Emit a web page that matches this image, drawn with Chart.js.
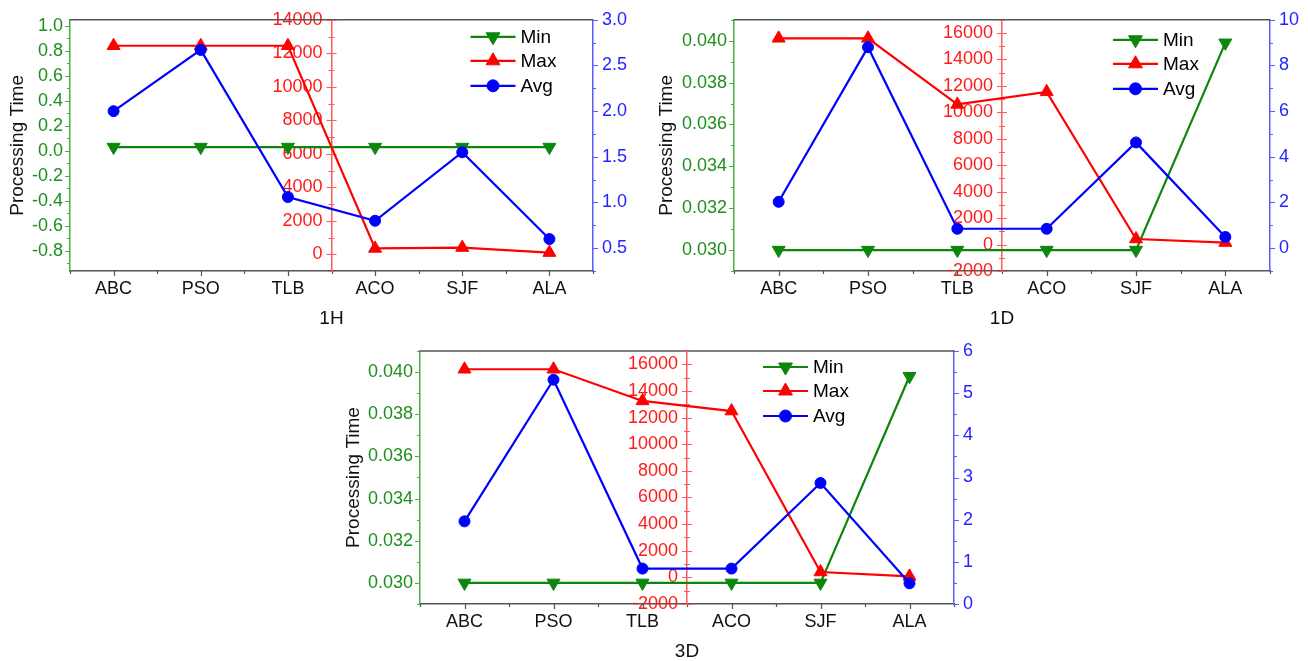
<!DOCTYPE html>
<html>
<head>
<meta charset="utf-8">
<script src="https://cdn.jsdelivr.net/npm/chart.js@4.4.1/dist/chart.umd.min.js"></script>
<style>
  html, body { margin: 0; padding: 0; background: #fff; }
  #wrap { position: relative; width: 1308px; height: 661px; overflow: hidden; }
  canvas { position: absolute; }
</style>
</head>
<body>
<div id="wrap">
  <canvas id="c1h" width="650" height="330" style="left:0;top:0;width:650px;height:330px"></canvas>
  <canvas id="c1d" width="658" height="330" style="left:650px;top:0;width:658px;height:330px"></canvas>
  <canvas id="c3d" width="660" height="333" style="left:330px;top:330px;width:660px;height:333px"></canvas>
</div>
<script>
// categories shared by all three panels
const categories = ['ABC', 'PSO', 'TLB', 'ACO', 'SJF', 'ALA'];
const seriesNames = ['Min', 'Max', 'Avg'];

// 1H
const min1H = [0.03, 0.03, 0.03, 0.03, 0.03, 0.03];
const max1H = [12450, 12450, 12450, 350, 400, 100];
const avg1H = [2.0, 2.67, 1.06, 0.8, 1.55, 0.6];

// 1D
const min1D = [0.030, 0.030, 0.030, 0.030, 0.030, 0.0399];
const max1D = [15600, 15600, 10600, 11550, 420, 150];
const avg1D = [2.03, 8.8, 0.85, 0.85, 4.63, 0.49];

// 3D
const min3D = [0.030, 0.030, 0.030, 0.030, 0.030, 0.0398];
const max3D = [15630, 15630, 13250, 12490, 400, 75];
const avg3D = [1.96, 5.32, 0.84, 0.84, 2.87, 0.49];

const FONT = "'Liberation Sans', Arial, Helvetica, sans-serif";
const GREEN = '#0c870c', GREEN_TXT = '#1d8f1d', GREEN_AX = '#44b044';
const RED = '#ff0000', RED_TXT = '#ff1a1a', RED_AX = '#ff5a5a';
const BLUE = '#0000ff', BLUE_TXT = '#2424ff', BLUE_AX = '#5a5aff';
const DARK = '#555555';

Chart.defaults.font.family = FONT;
Chart.defaults.font.size = 18;

// draws major/minor tick marks (Origin style) plus the top frame line
const tickMarks = {
  id: 'tickMarks',
  beforeDatasetsDraw(chart) {
    const ctx = chart.ctx, area = chart.chartArea;
    ctx.save();
    ctx.strokeStyle = DARK;
    ctx.lineWidth = 1.5;
    ctx.beginPath();
    ctx.moveTo(area.left, area.top);
    ctx.lineTo(area.right, area.top);
    ctx.stroke();

    Object.values(chart.scales).forEach(scale => {
      const m = scale.options.marks;
      if (!m) return;
      ctx.strokeStyle = m.color;
      ctx.lineWidth = 1.2;
      const marks = [];
      if (scale.axis === 'x') {
        const n = scale.ticks.length;
        for (let i = 0; i < n; i++) marks.push([i, m.major]);
        for (let i = 0; i <= n; i++) marks.push([i - 0.5, m.minor]);
      } else {
        const first = Math.ceil(scale.min / m.step - 1e-9);
        for (let k = first; k * m.step <= scale.max + 1e-9; k++) {
          marks.push([k * m.step, (k % m.every === 0) ? m.major : m.minor]);
        }
      }
      ctx.beginPath();
      marks.forEach(([v, len]) => {
        const p = Math.round(scale.getPixelForValue(v)) + 0.5;
        if (scale.axis === 'x') {
          ctx.moveTo(p, scale.top);
          ctx.lineTo(p, scale.top + len);
        } else if (scale.options.position === 'left') {
          ctx.moveTo(scale.right, p);
          ctx.lineTo(scale.right - len, p);
        } else if (scale.options.position === 'right') {
          ctx.moveTo(scale.left, p);
          ctx.lineTo(scale.left + len, p);
        } else {
          const cx = (area.left + area.right) / 2;
          ctx.moveTo(cx - len, p);
          ctx.lineTo(cx + len, p);
        }
      });
      ctx.stroke();
    });
    ctx.restore();
  }
};

function drawMarker(ctx, style, x, y, r) {
  ctx.beginPath();
  if (style === 'circle') {
    ctx.arc(x, y, r, 0, Math.PI * 2);
  } else {
    const s = style === 'down' ? -1 : 1;
    ctx.moveTo(x, y - s * r);
    ctx.lineTo(x + r * 0.866, y + s * r * 0.5);
    ctx.lineTo(x - r * 0.866, y + s * r * 0.5);
    ctx.closePath();
  }
  ctx.fill();
  ctx.stroke();
}

// legend drawn inside the plot, line + marker + name
const insideLegend = {
  id: 'insideLegend',
  afterDatasetsDraw(chart, args, opts) {
    const ctx = chart.ctx, a = chart.chartArea;
    const x1 = a.right - opts.fromRight, x2 = x1 + opts.lineLen;
    ctx.save();
    chart.data.datasets.forEach((ds, i) => {
      const y = a.top + opts.rows[i];
      ctx.strokeStyle = ds.borderColor;
      ctx.fillStyle = ds.borderColor;
      ctx.lineWidth = 2.2;
      ctx.beginPath();
      ctx.moveTo(x1, y);
      ctx.lineTo(x2, y);
      ctx.stroke();
      ctx.lineWidth = 1;
      drawMarker(ctx, ds.legendMarker, (x1 + x2) / 2, y, ds.pointRadius + 0.5);
      ctx.fillStyle = '#000';
      ctx.font = '19px ' + FONT;
      ctx.textBaseline = 'middle';
      ctx.textAlign = 'left';
      ctx.fillText(ds.label, x2 + 5, y + 1);
    });
    ctx.restore();
  }
};

// major tick values between the axis limits, at multiples of the major step
function majorTicks(step) {
  return (scale) => {
    const t = [];
    for (let k = Math.ceil(scale.min / step - 1e-9); k * step <= scale.max + 1e-9; k++) {
      t.push({ value: +(k * step).toFixed(6) });
    }
    scale.ticks = t;
  };
}

function makePanel(id, p) {
  const fit = (prop, val) => (scale) => { scale[prop] = val; };
  const yAxis = (ax, position, color, txt, padding, dec) => ({
    type: 'linear', position,
    min: ax.min, max: ax.max,
    afterBuildTicks: majorTicks(ax.step * ax.every),
    grid: { display: false, drawTicks: false },
    border: { display: true, color, width: 1.5 },
    ticks: { autoSkip: false, color: txt, padding,
             callback: v => dec === null ? String(v) : v.toFixed(dec) },
    marks: { step: ax.step, every: ax.every, major: 5, minor: 3, color }
  });

  const yG = yAxis(p.g, 'left', GREEN_AX, GREEN_TXT, 7, p.g.dec);
  yG.afterFit = fit('width', p.leftW);
  yG.title = { display: true, text: 'Processing Time', color: '#111', font: { size: 19 },
               padding: { top: p.yTitlePad, bottom: 0 } };
  const yR = yAxis(p.r, 'center', RED_AX, RED_TXT, 9, null);
  const yB = yAxis(p.b, 'right', BLUE_AX, BLUE_TXT, 9, p.b.dec);
  yB.afterFit = fit('width', p.rightW);

  return new Chart(document.getElementById(id), {
    type: 'line',
    data: {
      labels: categories,
      datasets: [
        { label: seriesNames[0], data: p.min, yAxisID: 'yG', order: 3,
          borderColor: GREEN, backgroundColor: GREEN, borderWidth: 2.2,
          pointStyle: 'triangle', pointRotation: 180, pointRadius: 7.5, pointBorderWidth: 1,
          legendMarker: 'down' },
        { label: seriesNames[1], data: p.max, yAxisID: 'yR', order: 2,
          borderColor: RED, backgroundColor: RED, borderWidth: 2.2,
          pointStyle: 'triangle', pointRadius: 7.5, pointBorderWidth: 1,
          legendMarker: 'up' },
        { label: seriesNames[2], data: p.avg, yAxisID: 'yB', order: 1,
          borderColor: BLUE, backgroundColor: BLUE, borderWidth: 2.2,
          pointStyle: 'circle', pointRadius: 5.5, pointBorderWidth: 1,
          legendMarker: 'circle' }
      ]
    },
    options: {
      responsive: false,
      animation: false,
      devicePixelRatio: 1,
      layout: { padding: { top: p.top, left: 0, right: 0, bottom: 0 } },
      plugins: {
        legend: { display: false },
        tooltip: { enabled: false },
        insideLegend: p.legend
      },
      elements: { line: { tension: 0 } },
      scales: {
        x: {
          type: 'category',
          offset: true,
          afterFit: fit('height', p.bottomH),
          grid: { display: false, drawTicks: false },
          border: { display: true, color: DARK, width: 1.5 },
          ticks: { color: '#111', padding: 7, maxRotation: 0, autoSkip: false },
          title: { display: true, text: p.xTitle, color: '#111', font: { size: 19 },
                   padding: { top: 0, bottom: p.xTitlePad } },
          marks: { major: 5, minor: 3, color: DARK }
        },
        yG, yR, yB
      }
    },
    plugins: [tickMarks, insideLegend]
  });
}

makePanel('c1h', {
  min: min1H, max: max1H, avg: avg1H, xTitle: '1H',
  top: 17, bottomH: 59, leftW: 70, rightW: 57, yTitlePad: 6, xTitlePad: 0,
  g: { min: -0.96, max: 1.047, step: 0.1, every: 2, dec: 1 },
  r: { min: -1000, max: 14000, step: 1000, every: 2 },
  b: { min: 0.25, max: 3.0, step: 0.25, every: 2, dec: 1 },
  legend: { fromRight: 122.5, lineLen: 45, rows: [17, 41, 66] }
});

makePanel('c1d', {
  min: min1D, max: max1D, avg: avg1D, xTitle: '1D',
  top: 17, bottomH: 59, leftW: 84, rightW: 38, yTitlePad: 5, xTitlePad: 0,
  g: { min: 0.029, max: 0.041, step: 0.001, every: 2, dec: 3 },
  r: { min: -2000, max: 17000, step: 1000, every: 2 },
  b: { min: -1, max: 10, step: 1, every: 2, dec: 0 },
  legend: { fromRight: 157, lineLen: 45, rows: [20, 44, 69] }
});

makePanel('c3d', {
  min: min3D, max: max3D, avg: avg3D, xTitle: '3D',
  top: 21, bottomH: 59, leftW: 90, rightW: 36, yTitlePad: 12, xTitlePad: 0,
  g: { min: 0.029, max: 0.041, step: 0.001, every: 2, dec: 3 },
  r: { min: -2000, max: 17000, step: 1000, every: 2 },
  b: { min: 0, max: 6, step: 0.5, every: 2, dec: 0 },
  legend: { fromRight: 191, lineLen: 45, rows: [16, 40, 65] }
});
</script>
</body>
</html>
